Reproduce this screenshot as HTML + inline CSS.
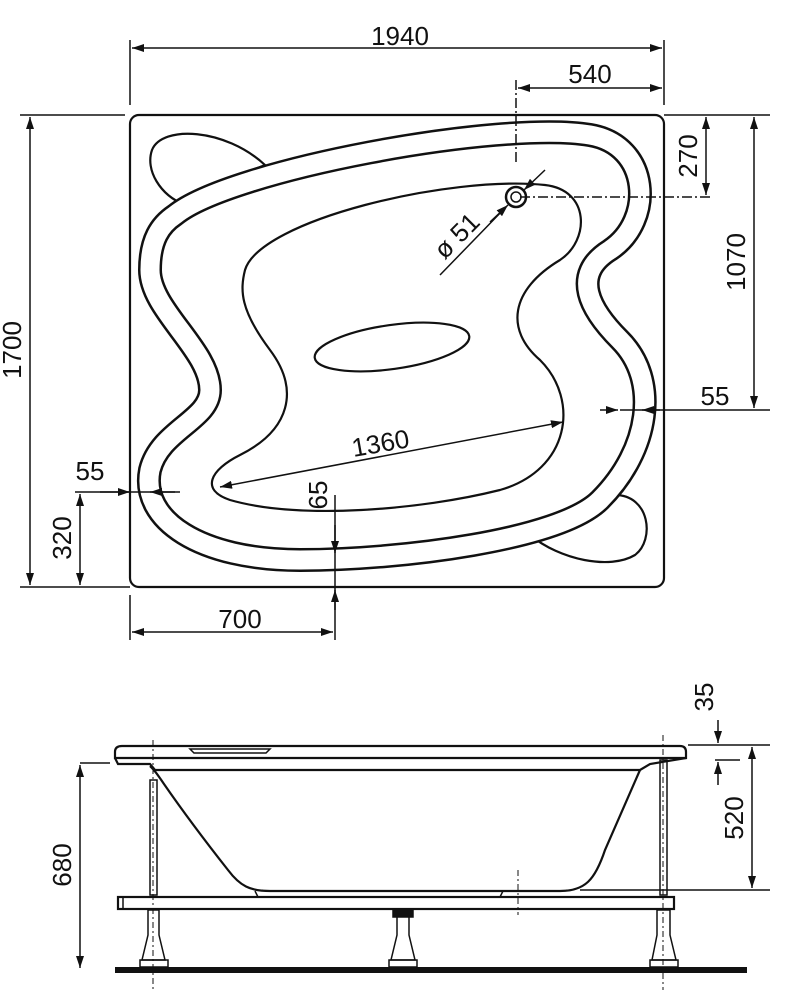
<!DOCTYPE html>
<html><head><meta charset="utf-8"><style>
html,body{margin:0;padding:0;background:#fff;}
svg{display:block;}
text{font-family:"Liberation Sans",Arial,sans-serif;font-size:26px;fill:#111;}
</style></head><body>
<svg width="791" height="997" viewBox="0 0 791 997" xmlns="http://www.w3.org/2000/svg">
<defs>
<marker id="a" viewBox="0 0 12 8" refX="12" refY="4" markerWidth="12" markerHeight="8" orient="auto-start-reverse" markerUnits="userSpaceOnUse"><path d="M0,0 L12,4 L0,8 Z" fill="#111"/></marker>
</defs>
<g stroke="#111" fill="none" stroke-width="1.5">
<!-- top view outline -->
<rect x="130" y="115" width="534" height="472" rx="9" stroke-width="2.2"/>
<!-- corner blobs -->
<path d="M185,205 C160,195 145,170 152,150 C162,125 225,128 265,165 C240,175 205,190 185,205 Z" stroke-width="2.2"/>
<path d="M530,535 C560,520 600,505 615,495 C650,495 655,540 635,555 C610,570 560,560 530,535 Z" stroke-width="2.2"/>
<!-- rim double line -->
<path id="rim" d="M175,215 C230,170 500,120 590,135 C650,145 655,220 610,250 C570,275 590,310 620,340 C660,380 650,450 600,500 C560,540 400,560 300,560 C200,560 140,520 150,470 C160,430 210,420 210,390 C210,350 150,310 150,270 C150,240 160,225 175,215 Z" stroke-width="24"/>
<path d="M175,215 C230,170 500,120 590,135 C650,145 655,220 610,250 C570,275 590,310 620,340 C660,380 650,450 600,500 C560,540 400,560 300,560 C200,560 140,520 150,470 C160,430 210,420 210,390 C210,350 150,310 150,270 C150,240 160,225 175,215 Z" stroke="#fff" stroke-width="19"/>
<!-- inner basin -->
<path d="M245,270 C260,220 450,175 545,185 C590,190 590,240 560,260 C510,290 505,330 540,360 C580,400 570,470 500,490 C420,510 300,520 230,500 C200,490 210,470 240,455 C290,430 300,390 270,350 C240,310 240,290 245,270 Z" stroke-width="2.2"/>
<ellipse cx="392" cy="347" rx="78" ry="22" transform="rotate(-8 392 347)" stroke-width="2.2"/>
<circle cx="516" cy="197" r="10" stroke-width="2.5"/>
<circle cx="516" cy="197" r="5"/>
<!-- top dimensions -->
<line x1="130" y1="40" x2="130" y2="105"/><line x1="664" y1="40" x2="664" y2="105"/>
<line x1="132" y1="48" x2="662" y2="48" marker-start="url(#a)" marker-end="url(#a)"/>
<line x1="516" y1="80" x2="516" y2="165" stroke-dasharray="10,3,2,3"/>
<line x1="518" y1="88" x2="662" y2="88" marker-start="url(#a)" marker-end="url(#a)"/>
<line x1="664" y1="115" x2="770" y2="115"/>
<line x1="520" y1="197" x2="712" y2="197" stroke-dasharray="10,3,2,3"/>
<line x1="706" y1="117" x2="706" y2="195" marker-start="url(#a)" marker-end="url(#a)"/>
<line x1="754" y1="117" x2="754" y2="408" marker-start="url(#a)" marker-end="url(#a)"/>
<line x1="620" y1="410" x2="770" y2="410"/>
<line x1="600" y1="410" x2="618" y2="410" marker-end="url(#a)"/>
<line x1="660" y1="410" x2="642" y2="410" marker-end="url(#a)"/>
<line x1="20" y1="115" x2="125" y2="115"/><line x1="20" y1="587" x2="130" y2="587"/>
<line x1="30" y1="117" x2="30" y2="585" marker-start="url(#a)" marker-end="url(#a)"/>
<line x1="75" y1="492" x2="180" y2="492"/>
<line x1="100" y1="492" x2="130" y2="492" marker-end="url(#a)"/>
<line x1="175" y1="492" x2="150" y2="492" marker-end="url(#a)"/>
<line x1="80" y1="494" x2="80" y2="585" marker-start="url(#a)" marker-end="url(#a)"/>
<line x1="130" y1="595" x2="130" y2="640"/>
<line x1="335" y1="495" x2="335" y2="640"/>
<line x1="335" y1="525" x2="335" y2="553" marker-end="url(#a)"/>
<line x1="335" y1="610" x2="335" y2="590" marker-end="url(#a)"/>
<line x1="132" y1="632" x2="333" y2="632" marker-start="url(#a)" marker-end="url(#a)"/>
<line x1="220" y1="487" x2="563" y2="422" marker-start="url(#a)" marker-end="url(#a)"/>
<line x1="440" y1="275" x2="506" y2="207"/>
<line x1="490" y1="222" x2="508" y2="205" marker-end="url(#a)"/>
<line x1="545" y1="170" x2="524" y2="190" marker-end="url(#a)"/>
<!-- side view -->
<path d="M115,752 Q115,746 122,746 L680,746 Q686,746 686,752 L686,758 L115,758 Z" stroke-width="2.2"/>
<path d="M190,749 L270,749 L266,753 L194,753 Z"/>
<path d="M115,758 L118,764 L150,764 L155,770 L640,770 L650,764 L686,758" stroke-width="2.2"/>
<path d="M150,766 C160,775 165,790 228,870 C240,886 250,891 270,891 L560,891 C585,891 595,880 605,850 L640,770" stroke-width="2.2"/>
<path d="M255,891 L258,897 M503,891 L500,897"/>
<rect x="118" y="897" width="556" height="12" stroke-width="2.2"/>
<line x1="123" y1="897" x2="123" y2="909"/>
<g stroke-width="1.5">
<rect x="150" y="780" width="7" height="115"/>
<rect x="660" y="760" width="7" height="135"/>
<path d="M148,910 L159,910 L159,935 L165,960 L142,960 L148,935 Z"/>
<path d="M657,910 L670,910 L670,935 L676,960 L652,960 L657,935 Z"/>
<path d="M397,913 L409,913 L409,935 L415,960 L391,960 L397,935 Z"/>
<rect x="140" y="960" width="28" height="7"/><rect x="650" y="960" width="28" height="7"/><rect x="389" y="960" width="28" height="7"/>
<rect x="393" y="909" width="20" height="8" fill="#111"/>
</g>
<rect x="115" y="967" width="632" height="6" fill="#111" stroke="none"/>
<line x1="153" y1="740" x2="153" y2="990" stroke-dasharray="6,3,2,3" stroke-width="1"/>
<line x1="663" y1="735" x2="663" y2="990" stroke-dasharray="6,3,2,3" stroke-width="1"/>
<line x1="518" y1="870" x2="518" y2="915" stroke-dasharray="6,3,2,3" stroke-width="1"/>
<!-- side dims -->
<line x1="80" y1="763" x2="110" y2="763"/>
<line x1="80" y1="765" x2="80" y2="968" marker-start="url(#a)" marker-end="url(#a)"/>
<line x1="688" y1="745" x2="770" y2="745"/>
<line x1="715" y1="760" x2="740" y2="760"/>
<line x1="580" y1="890" x2="770" y2="890"/>
<line x1="752" y1="747" x2="752" y2="888" marker-start="url(#a)" marker-end="url(#a)"/>
<line x1="718" y1="720" x2="718" y2="743" marker-end="url(#a)"/>
<line x1="718" y1="785" x2="718" y2="762" marker-end="url(#a)"/>
</g>
<text x="400" y="45" text-anchor="middle">1940</text>
<text x="590" y="83" text-anchor="middle">540</text>
<text transform="translate(697,156) rotate(-90)" text-anchor="middle">270</text>
<text transform="translate(745,262) rotate(-90)" text-anchor="middle">1070</text>
<text transform="translate(21,350) rotate(-90)" text-anchor="middle">1700</text>
<text x="715" y="405" text-anchor="middle">55</text>
<text x="90" y="480" text-anchor="middle">55</text>
<text transform="translate(71,538) rotate(-90)" text-anchor="middle">320</text>
<text transform="translate(327,495) rotate(-90)" text-anchor="middle">65</text>
<text x="240" y="628" text-anchor="middle">700</text>
<text transform="translate(382,452) rotate(-10)" text-anchor="middle">1360</text>
<text transform="translate(463,242) rotate(-45)" text-anchor="middle">ø 51</text>
<text transform="translate(71,865) rotate(-90)" text-anchor="middle">680</text>
<text transform="translate(743,818) rotate(-90)" text-anchor="middle">520</text>
<text transform="translate(713,697) rotate(-90)" text-anchor="middle">35</text>
</svg>
</body></html>
